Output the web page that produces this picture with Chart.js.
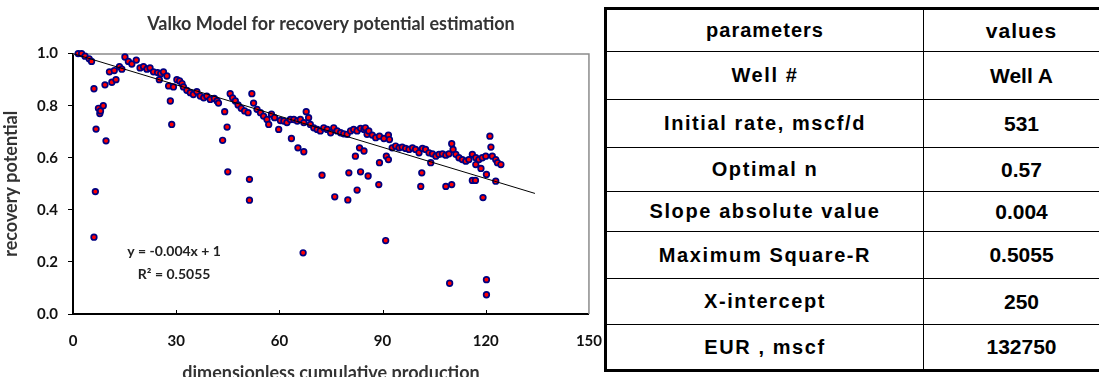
<!DOCTYPE html>
<html>
<head>
<meta charset="utf-8">
<script src="https://cdn.jsdelivr.net/npm/chart.js@4.4.0/dist/chart.umd.min.js"></script>
<style>
  html, body { margin: 0; padding: 0; background: #fff; overflow: hidden; }
  #page { position: relative; width: 1099px; height: 377px; overflow: hidden; }
  #chart-box { position: absolute; left: 0; top: 0; width: 620px; height: 386px; }
  #params {
    position: absolute; left: 604px; top: 7px; width: 518px;
    border-collapse: collapse; border: 3px solid #000;
    font-family: "Liberation Sans", Arial, sans-serif; font-weight: bold;
    font-size: 20px; color: #000; table-layout: fixed; background: #fff;
  }
  #params td { border: 1px solid #000; text-align: center; padding: 0; }
  #params td.left { width: 316px; letter-spacing: 1.6px; }
  #params td.right { font-size: 21px; }
  #params tr.head td { letter-spacing: 1px; }
</style>
</head>
<body>
<div id="page">
  <div id="chart-box"><canvas id="valko"></canvas></div>
  <table id="params"></table>
</div>
<script>
// scatter points
const cumProd = [
  1.5, 2.5, 3.5, 4.7, 5.4, 6.1, 6.1, 6.5, 6.7, 7.4, 7.8, 8.0, 8.8, 9.3, 9.6,
  10.6, 11.3, 12.0, 12.5, 13.5, 14.2, 15.1, 16.1, 17.1, 18.4, 19.5, 20.5, 21.5, 22.4, 23.4,
  24.6, 25.1, 25.5, 26.3, 27.3, 27.8, 28.3, 28.7, 29.2, 30.2, 31.0, 31.7, 32.1, 33.1, 34.1,
  35.0, 36.0, 37.0, 38.0, 38.9, 39.9, 41.1, 41.9, 42.3, 43.5, 44.1, 44.8, 45.0, 45.7, 46.4,
  47.2, 48.0, 48.9, 49.9, 50.9, 51.3, 51.3, 52.0, 52.5, 53.5, 54.5, 55.4, 56.4, 56.9, 57.7,
  58.6, 59.8, 60.3, 61.3, 62.2, 63.2, 63.5, 64.2, 65.2, 65.4, 66.1, 66.9, 67.1, 67.1, 67.8,
  68.5, 69.0, 70.0, 71.0, 71.9, 72.4, 72.9, 73.9, 74.9, 75.8, 76.1, 76.8, 77.8, 78.7, 79.7,
  79.9, 80.2, 80.7, 81.6, 82.1, 82.6, 82.6, 83.3, 83.6, 83.6, 84.6, 84.6, 85.0, 85.5, 85.8,
  86.0, 87.0, 88.0, 88.9, 89.1, 89.1, 90.4, 90.9, 91.1, 91.7, 91.7, 92.0, 92.8, 93.8, 94.8,
  95.7, 96.7, 97.7, 98.7, 99.6, 100.6, 101.1, 101.4, 101.6, 102.5, 103.5, 104.0, 104.5, 105.5, 106.4,
  107.4, 108.4, 108.4, 109.3, 109.5, 110.1, 110.1, 110.5, 111.3, 112.2, 113.2, 114.2, 115.1, 116.1, 116.1,
  117.0, 117.1, 117.1, 118.0, 118.6, 119.0, 119.2, 120.0, 120.2, 120.2, 120.2, 121.2, 121.5, 121.9, 122.9,
  122.9, 123.4, 124.4
]
const recovery = [
  1.0, 1.0, 0.99, 0.98, 0.97, 0.865, 0.295, 0.47, 0.71, 0.79, 0.77, 0.78, 0.80, 0.88, 0.665,
  0.93, 0.89, 0.935, 0.90, 0.95, 0.94, 0.987, 0.97, 0.96, 0.975, 0.945, 0.95, 0.94, 0.945, 0.93,
  0.927, 0.90, 0.923, 0.93, 0.914, 0.876, 0.818, 0.728, 0.872, 0.90, 0.895, 0.885, 0.872, 0.859, 0.85,
  0.843, 0.854, 0.837, 0.83, 0.837, 0.824, 0.828, 0.818, 0.81, 0.667, 0.777, 0.718, 0.546, 0.846, 0.83,
  0.818, 0.803, 0.79, 0.78, 0.773, 0.517, 0.437, 0.846, 0.81, 0.786, 0.773, 0.76, 0.747, 0.728, 0.767,
  0.754, 0.709, 0.743, 0.741, 0.735, 0.747, 0.674, 0.747, 0.741, 0.638, 0.747, 0.235, 0.735, 0.623, 0.777,
  0.754, 0.728, 0.715, 0.709, 0.703, 0.533, 0.715, 0.709, 0.696, 0.715, 0.45, 0.703, 0.696, 0.692, 0.69,
  0.438, 0.542, 0.703, 0.709, 0.606, 0.703, 0.476, 0.638, 0.713, 0.546, 0.709, 0.626, 0.715, 0.69, 0.53,
  0.703, 0.687, 0.677, 0.497, 0.683, 0.581, 0.674, 0.282, 0.606, 0.687, 0.593, 0.67, 0.638, 0.645, 0.638,
  0.641, 0.636, 0.632, 0.638, 0.632, 0.619, 0.49, 0.542, 0.636, 0.632, 0.619, 0.581, 0.615, 0.606, 0.613,
  0.615, 0.61, 0.49, 0.615, 0.118, 0.654, 0.497, 0.632, 0.613, 0.60, 0.593, 0.587, 0.593, 0.613, 0.513,
  0.513, 0.60, 0.574, 0.593, 0.559, 0.60, 0.447, 0.606, 0.536, 0.132, 0.074, 0.683, 0.641, 0.606, 0.593,
  0.51, 0.581, 0.574
]
// linear trend end points (y = -0.004x + 1)
const trendX = [0, 134.3]
const trendY = [1.0, 0.463]
const xTicks = [0, 30, 60, 90, 120, 150]
const yTicks = [0, 0.2, 0.4, 0.6, 0.8, 1.0]
const eqLines = ['y = -0.004x + 1', 'R\u00b2 = 0.5055']

// table content
const paramNames = ['parameters', 'Well #', 'Initial rate, mscf/d', 'Optimal  n', 'Slope absolute value',
  'Maximum Square-R', 'X-intercept', 'EUR , mscf']
const paramValues = ['values', 'Well A', '531', '0.57', '0.004', '0.5055', '250', '132750']
const rowHeights = [43, 48, 48, 44, 40, 47, 46, 46]

const table = document.getElementById('params')
paramNames.forEach((name, i) => {
  const tr = document.createElement('tr')
  if (i === 0) tr.className = 'head'
  tr.style.height = rowHeights[i] + 'px'
  const a = document.createElement('td')
  a.className = 'left'
  a.textContent = name
  const b = document.createElement('td')
  b.className = 'right'
  b.textContent = paramValues[i]
  tr.appendChild(a)
  tr.appendChild(b)
  table.appendChild(tr)
})

const font = 'Lato, "Open Sans", sans-serif'

// gray top/right frame, inside x ticks and the trend equation
const extras = {
  id: 'extras',
  beforeDatasetsDraw(chart) {
    const { ctx, chartArea: a } = chart
    ctx.save()
    ctx.strokeStyle = '#8c8c8c'
    ctx.lineWidth = 1.5
    ctx.beginPath()
    ctx.moveTo(a.left, a.top + 0.5)
    ctx.lineTo(a.right, a.top + 0.5)
    ctx.lineTo(a.right, a.bottom)
    ctx.stroke()
    ctx.strokeStyle = '#000'
    ctx.lineWidth = 1
    const xs = chart.scales.x
    xTicks.slice(1, -1).forEach((v) => {
      const px = Math.round(xs.getPixelForValue(v)) + 0.5
      ctx.beginPath()
      ctx.moveTo(px, a.bottom)
      ctx.lineTo(px, a.bottom - 4)
      ctx.stroke()
    })
    ctx.restore()
  },
  afterDatasetsDraw(chart) {
    const { ctx, scales } = chart
    ctx.save()
    ctx.fillStyle = '#222'
    ctx.font = 'bold 14px ' + font
    ctx.textAlign = 'center'
    ctx.textBaseline = 'middle'
    const cx = scales.x.getPixelForValue(29.4)
    ctx.fillText(eqLines[0], cx, scales.y.getPixelForValue(0.24))
    ctx.fillText(eqLines[1], cx, scales.y.getPixelForValue(0.15))
    ctx.restore()
  }
}

new Chart(document.getElementById('valko'), {
  data: {
    datasets: [
      {
        type: 'line',
        label: 'trend',
        data: trendX.map((x, i) => ({ x, y: trendY[i] })),
        borderColor: '#000',
        borderWidth: 1,
        pointRadius: 0,
        order: 0
      },
      {
        type: 'scatter',
        label: 'recovery potential',
        data: cumProd.map((x, i) => ({ x, y: recovery[i] })),
        backgroundColor: '#ff0000',
        borderColor: '#000080',
        borderWidth: 1.7,
        pointRadius: 2.8,
        clip: 6,
        order: 1
      }
    ]
  },
  options: {
    responsive: true,
    maintainAspectRatio: false,
    animation: false,
    layout: { padding: { left: 0, right: 12, top: 0, bottom: 0 } },
    plugins: {
      legend: { display: false },
      tooltip: { enabled: false },
      title: {
        display: true,
        text: 'Valko Model for recovery potential estimation',
        fullSize: false,
        color: '#333',
        font: { family: font, size: 18, weight: 'bold' },
        padding: { top: 13, bottom: 19 }
      }
    },
    scales: {
      x: {
        type: 'linear',
        min: 0,
        max: 150,
        afterBuildTicks: (s) => { s.ticks = xTicks.map((v) => ({ value: v })) },
        afterFit: (s) => { s.height = 72 },
        grid: { display: false, drawTicks: false },
        border: { color: '#000', width: 2 },
        ticks: { color: '#111', padding: 18, font: { family: font, size: 15, weight: 'bold' } },
        title: {
          display: true,
          text: 'dimensionless cumulative production',
          color: '#333',
          font: { family: font, size: 18, weight: 'bold' },
          padding: { top: 0, bottom: 2 }
        }
      },
      y: {
        type: 'linear',
        min: 0,
        max: 1,
        afterBuildTicks: (s) => { s.ticks = yTicks.map((v) => ({ value: v })) },
        afterFit: (s) => { s.width = 73 },
        grid: { display: true, drawOnChartArea: false, drawTicks: true, tickLength: 5, color: '#000' },
        border: { color: '#000', width: 2 },
        ticks: {
          color: '#111',
          padding: 10,
          font: { family: font, size: 15, weight: 'bold' },
          callback: (v) => v.toFixed(1)
        },
        title: {
          display: true,
          text: 'recovery potential',
          color: '#333',
          font: { family: font, size: 18, weight: 'bold' },
          padding: { top: 0, bottom: 7 }
        }
      }
    }
  },
  plugins: [extras]
})
</script>
</body>
</html>
